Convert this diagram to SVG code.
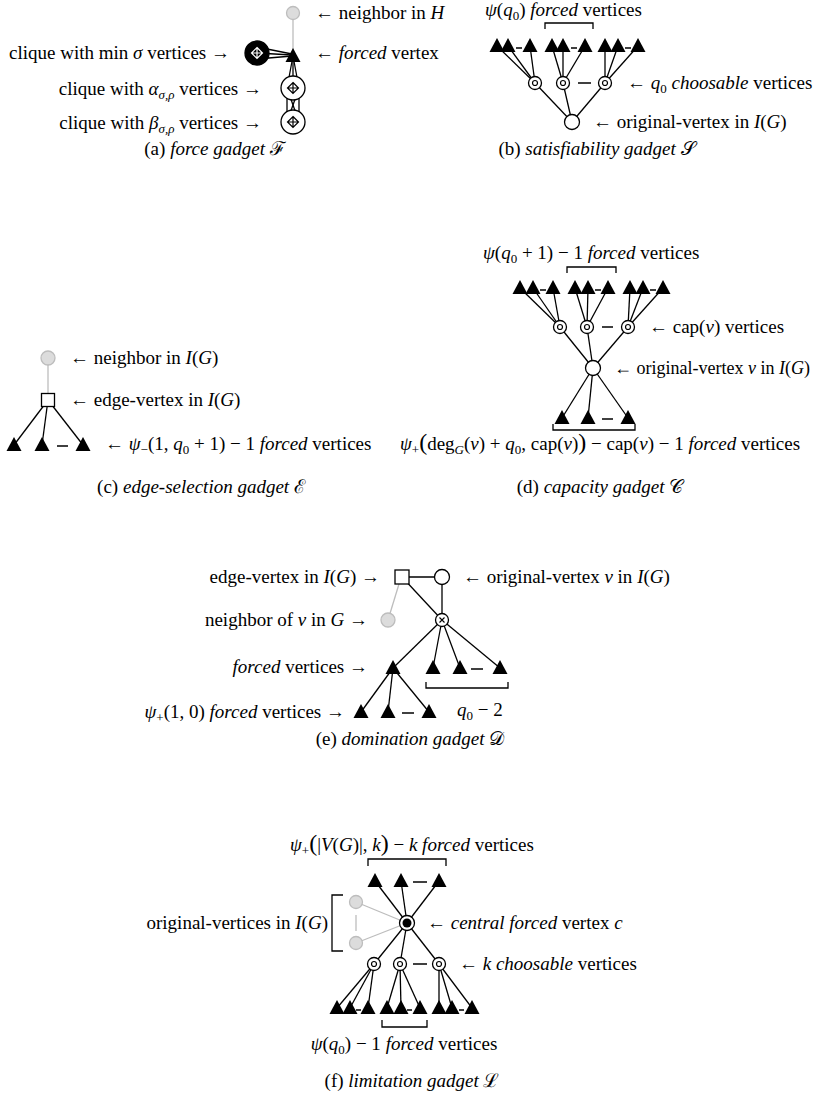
<svg xmlns="http://www.w3.org/2000/svg" xmlns:xlink="http://www.w3.org/1999/xlink" width="820" height="1109" viewBox="0 0 820 1109">
<style>
text{font-family:"Liberation Serif","DejaVu Serif",serif;font-size:19px;fill:#000}
.i{font-style:italic}
.s{font-size:13px}
.bp{font-size:24px}
.e{stroke:#000;stroke-width:1.3;fill:none}
.gr{stroke:#bdbdbd;stroke-width:1.3;fill:none}
.gn{fill:#dcdcdc;stroke:#bdbdbd;stroke-width:1.3}
.w{fill:#fff;stroke:#000;stroke-width:1.3}
.b{fill:#000;stroke:#000;stroke-width:1.3}
.d{stroke:#000;stroke-width:1.5}
.br{stroke:#000;stroke-width:1.3;fill:none}
.cap{font-size:19px}
</style>
<defs>
<path id="tri" d="M0,-8 L7.5,6 L-7.5,6 Z" fill="#000"/>
<g id="ch"><circle r="6.5" class="w"/><circle r="2.5" fill="none" stroke="#000" stroke-width="1.2"/></g>
<path id="dc" d="M0,-5.5 L5.5,0 L0,5.5 L-5.5,0 Z M0,-5.5 V5.5 M-5.5,0 H5.5"/>
</defs>

<!-- connectors -->
<g id="connectors" class="e">
<!-- (a) -->
<line class="gr" x1="293" y1="13" x2="293" y2="56"/>
<line x1="257" y1="47" x2="292" y2="54"/>
<line x1="257" y1="53" x2="292" y2="55"/>
<line x1="257" y1="59" x2="292" y2="56"/>
<line x1="293" y1="56" x2="287" y2="88"/>
<line x1="293" y1="56" x2="293" y2="88"/>
<line x1="293" y1="56" x2="299" y2="88"/>
<line x1="287" y1="88" x2="287" y2="122"/>
<line x1="299" y1="88" x2="299" y2="122"/>
<line x1="287" y1="88" x2="299" y2="122"/>
<line x1="299" y1="88" x2="287" y2="122"/>
<!-- (b) -->
<line x1="535" y1="83" x2="497" y2="46"/><line x1="535" y1="83" x2="508" y2="46"/><line x1="535" y1="83" x2="530" y2="46"/>
<line x1="563" y1="83" x2="552" y2="46"/><line x1="563" y1="83" x2="563" y2="46"/><line x1="563" y1="83" x2="585" y2="46"/>
<line x1="605" y1="83" x2="605" y2="46"/><line x1="605" y1="83" x2="618" y2="46"/><line x1="605" y1="83" x2="638" y2="46"/>
<line x1="572" y1="122" x2="535" y2="83"/><line x1="572" y1="122" x2="563" y2="83"/><line x1="572" y1="122" x2="605" y2="83"/>
<!-- (c) -->
<line class="gr" x1="48" y1="358" x2="48" y2="400"/>
<line x1="48" y1="400" x2="14" y2="445"/><line x1="48" y1="400" x2="42" y2="445"/><line x1="48" y1="400" x2="83" y2="445"/>
<!-- (d) -->
<line x1="560" y1="327" x2="520" y2="288"/><line x1="560" y1="327" x2="533" y2="288"/><line x1="560" y1="327" x2="553" y2="288"/>
<line x1="587" y1="327" x2="575" y2="288"/><line x1="587" y1="327" x2="588" y2="288"/><line x1="587" y1="327" x2="608" y2="288"/>
<line x1="628" y1="327" x2="630" y2="288"/><line x1="628" y1="327" x2="643" y2="288"/><line x1="628" y1="327" x2="663" y2="288"/>
<line x1="593" y1="368" x2="560" y2="327"/><line x1="593" y1="368" x2="587" y2="327"/><line x1="593" y1="368" x2="628" y2="327"/>
<line x1="593" y1="368" x2="562" y2="418"/><line x1="593" y1="368" x2="588" y2="418"/><line x1="593" y1="368" x2="628" y2="418"/>
<!-- (e) -->
<line x1="402" y1="577" x2="442" y2="577"/>
<line class="gr" x1="399" y1="584" x2="388" y2="620"/>
<line x1="402" y1="577" x2="442" y2="620"/>
<line x1="442" y1="577" x2="442" y2="620"/>
<line x1="442" y1="620" x2="393" y2="668"/><line x1="442" y1="620" x2="433" y2="668"/><line x1="442" y1="620" x2="460" y2="668"/><line x1="442" y1="620" x2="500" y2="668"/>
<line x1="393" y1="668" x2="361" y2="712"/><line x1="393" y1="668" x2="388" y2="712"/><line x1="393" y1="668" x2="429" y2="712"/>
<!-- (f) -->
<line x1="407" y1="923" x2="375" y2="881"/><line x1="407" y1="923" x2="401" y2="881"/><line x1="407" y1="923" x2="439" y2="881"/>
<line class="gr" x1="407" y1="923" x2="356" y2="902"/><line class="gr" x1="407" y1="923" x2="356" y2="943"/>
<line class="gr" x1="356" y1="915" x2="356" y2="931"/>
<line x1="407" y1="923" x2="374" y2="964"/><line x1="407" y1="923" x2="400" y2="964"/><line x1="407" y1="923" x2="439" y2="964"/>
<line x1="374" y1="964" x2="337" y2="1008"/><line x1="374" y1="964" x2="350" y2="1008"/><line x1="374" y1="964" x2="368" y2="1008"/>
<line x1="400" y1="964" x2="387" y2="1008"/><line x1="400" y1="964" x2="401" y2="1008"/><line x1="400" y1="964" x2="420" y2="1008"/>
<line x1="439" y1="964" x2="439" y2="1008"/><line x1="439" y1="964" x2="452" y2="1008"/><line x1="439" y1="964" x2="472" y2="1008"/>
</g>

<!-- (a) force gadget -->
<g id="a-neighbor"><circle cx="293" cy="13" r="6.5" class="gn"/></g>
<g id="a-forced"><use xlink:href="#tri" x="293" y="56"/></g>
<g id="a-min"><circle cx="257" cy="53" r="12" class="b"/><use xlink:href="#dc" x="257" y="53" fill="none" stroke="#fff" stroke-width="1.2"/></g>
<g id="a-alpha"><circle cx="293" cy="88" r="12" class="w"/><use xlink:href="#dc" x="293" y="88" fill="none" stroke="#000" stroke-width="1.2"/></g>
<g id="a-beta"><circle cx="293" cy="122" r="12" class="w"/><use xlink:href="#dc" x="293" y="122" fill="none" stroke="#000" stroke-width="1.2"/></g>

<!-- (b) satisfiability gadget -->
<g id="b-forced">
<use xlink:href="#tri" x="497" y="46"/><use xlink:href="#tri" x="508" y="46"/><use xlink:href="#tri" x="530" y="46"/>
<use xlink:href="#tri" x="552" y="46"/><use xlink:href="#tri" x="563" y="46"/><use xlink:href="#tri" x="585" y="46"/>
<use xlink:href="#tri" x="605" y="46"/><use xlink:href="#tri" x="618" y="46"/><use xlink:href="#tri" x="638" y="46"/>
<line class="d" x1="516" y1="48" x2="522" y2="48"/><line class="d" x1="571" y1="48" x2="577" y2="48"/><line class="d" x1="625" y1="48" x2="631" y2="48"/>
<path class="br" d="M545,29 V23 H593 V29"/>
</g>
<g id="b-choosable">
<use xlink:href="#ch" x="535" y="83"/><use xlink:href="#ch" x="563" y="83"/><use xlink:href="#ch" x="605" y="83"/>
<line class="d" x1="578" y1="83" x2="591" y2="83"/>
</g>
<g id="b-original"><circle cx="572" cy="122" r="7.5" class="w"/></g>

<!-- (c) edge-selection gadget -->
<g id="c-neighbor"><circle cx="48" cy="358" r="7" class="gn"/></g>
<g id="c-edge"><rect x="41.5" y="393.5" width="13" height="13" class="w"/></g>
<g id="c-forced">
<use xlink:href="#tri" x="14" y="445"/><use xlink:href="#tri" x="42" y="445"/><use xlink:href="#tri" x="83" y="445"/>
<line class="d" x1="57" y1="446" x2="68" y2="446"/>
</g>

<!-- (d) capacity gadget -->
<g id="d-forced-top">
<use xlink:href="#tri" x="520" y="288"/><use xlink:href="#tri" x="533" y="288"/><use xlink:href="#tri" x="553" y="288"/>
<use xlink:href="#tri" x="575" y="288"/><use xlink:href="#tri" x="588" y="288"/><use xlink:href="#tri" x="608" y="288"/>
<use xlink:href="#tri" x="630" y="288"/><use xlink:href="#tri" x="643" y="288"/><use xlink:href="#tri" x="663" y="288"/>
<line class="d" x1="540" y1="290" x2="546" y2="290"/><line class="d" x1="595" y1="290" x2="601" y2="290"/><line class="d" x1="650" y1="290" x2="656" y2="290"/>
<path class="br" d="M567,273 V267 H616 V273"/>
</g>
<g id="d-cap">
<use xlink:href="#ch" x="560" y="327"/><use xlink:href="#ch" x="587" y="327"/><use xlink:href="#ch" x="628" y="327"/>
<line class="d" x1="602" y1="327" x2="613" y2="327"/>
</g>
<g id="d-original"><circle cx="593" cy="368" r="7.5" class="w"/></g>
<g id="d-forced-bottom">
<use xlink:href="#tri" x="562" y="418"/><use xlink:href="#tri" x="588" y="418"/><use xlink:href="#tri" x="628" y="418"/>
<line class="d" x1="602" y1="419" x2="613" y2="419"/>
<path class="br" d="M553,424 V430 H635 V424"/>
</g>

<!-- (e) domination gadget -->
<g id="e-edge"><rect x="395" y="570" width="14" height="14" class="w"/></g>
<g id="e-original"><circle cx="442" cy="577" r="7.5" class="w"/></g>
<g id="e-neighbor"><circle cx="388" cy="620" r="7" class="gn"/></g>
<g id="e-cross"><circle cx="442" cy="620" r="6.5" class="w"/><path d="M439.5,617.5 L444.5,622.5 M444.5,617.5 L439.5,622.5" stroke="#000" stroke-width="1.1"/></g>
<g id="e-forced"><use xlink:href="#tri" x="393" y="668"/></g>
<g id="e-forced-q">
<use xlink:href="#tri" x="433" y="668"/><use xlink:href="#tri" x="460" y="668"/><use xlink:href="#tri" x="500" y="668"/>
<line class="d" x1="471" y1="669" x2="483" y2="669"/>
<path class="br" d="M426,682 V688 H508 V682"/>
</g>
<g id="e-forced-psi">
<use xlink:href="#tri" x="361" y="712"/><use xlink:href="#tri" x="388" y="712"/><use xlink:href="#tri" x="429" y="712"/>
<line class="d" x1="402" y1="713" x2="414" y2="713"/>
</g>

<!-- (f) limitation gadget -->
<g id="f-forced-top">
<use xlink:href="#tri" x="375" y="881"/><use xlink:href="#tri" x="401" y="881"/><use xlink:href="#tri" x="439" y="881"/>
<line class="d" x1="413" y1="882" x2="427" y2="882"/>
<path class="br" d="M368,866 V859 H446 V866"/>
</g>
<g id="f-original">
<circle cx="356" cy="902" r="6.5" class="gn"/><circle cx="356" cy="943" r="6.5" class="gn"/>
<path class="br" d="M343,895 H332 V951 H343"/>
</g>
<g id="f-central"><circle cx="407" cy="923" r="7.5" class="w"/><circle cx="407" cy="923" r="4.5" fill="#000"/></g>
<g id="f-choosable">
<use xlink:href="#ch" x="374" y="964"/><use xlink:href="#ch" x="400" y="964"/><use xlink:href="#ch" x="439" y="964"/>
<line class="d" x1="413" y1="964" x2="427" y2="964"/>
</g>
<g id="f-forced-bottom">
<use xlink:href="#tri" x="337" y="1008"/><use xlink:href="#tri" x="350" y="1008"/><use xlink:href="#tri" x="368" y="1008"/>
<use xlink:href="#tri" x="387" y="1008"/><use xlink:href="#tri" x="401" y="1008"/><use xlink:href="#tri" x="420" y="1008"/>
<use xlink:href="#tri" x="439" y="1008"/><use xlink:href="#tri" x="452" y="1008"/><use xlink:href="#tri" x="472" y="1008"/>
<line class="d" x1="356" y1="1010" x2="361" y2="1010"/><line class="d" x1="407" y1="1010" x2="412" y2="1010"/><line class="d" x1="459" y1="1010" x2="464" y2="1010"/>
<path class="br" d="M382,1020 V1027 H427 V1020"/>
</g>

<!-- labels -->
<g id="labels">
<text x="315" y="19">← neighbor in <tspan class="i">H</tspan></text>
<text x="315" y="59">← <tspan class="i">forced</tspan> vertex</text>
<text x="230" y="59" text-anchor="end">clique with min <tspan class="i">σ</tspan> vertices →</text>
<text x="262" y="95" text-anchor="end">clique with <tspan class="i">α</tspan><tspan class="s i" dy="4">σ,ρ</tspan><tspan dy="-4"> vertices →</tspan></text>
<text x="262" y="129" text-anchor="end">clique with <tspan class="i">β</tspan><tspan class="s i" dy="4">σ,ρ</tspan><tspan dy="-4"> vertices →</tspan></text>

<text x="485" y="16"><tspan class="i">ψ</tspan>(<tspan class="i">q</tspan><tspan class="s" dy="4">0</tspan><tspan dy="-4">) </tspan><tspan class="i">forced</tspan> vertices</text>
<text x="627" y="89">← <tspan class="i">q</tspan><tspan class="s" dy="4">0</tspan><tspan dy="-4"> </tspan><tspan class="i">choosable</tspan> vertices</text>
<text x="593" y="128">← original-vertex in <tspan class="i">I</tspan>(<tspan class="i">G</tspan>)</text>

<text x="70" y="364">← neighbor in <tspan class="i">I</tspan>(<tspan class="i">G</tspan>)</text>
<text x="70" y="406">← edge-vertex in <tspan class="i">I</tspan>(<tspan class="i">G</tspan>)</text>
<text x="105" y="450">← <tspan class="i">ψ</tspan><tspan class="s" dy="4">−</tspan><tspan dy="-4">(1, </tspan><tspan class="i">q</tspan><tspan class="s" dy="4">0</tspan><tspan dy="-4"> + 1) − 1 </tspan><tspan class="i">forced</tspan> vertices</text>

<text x="483" y="259"><tspan class="i">ψ</tspan>(<tspan class="i">q</tspan><tspan class="s" dy="4">0</tspan><tspan dy="-4"> + 1) − 1 </tspan><tspan class="i">forced</tspan> vertices</text>
<text x="649" y="333">← cap(<tspan class="i">v</tspan>) vertices</text>
<text x="614" y="374" style="font-size:18px">← original-vertex <tspan class="i">v</tspan> in <tspan class="i">I</tspan>(<tspan class="i">G</tspan>)</text>
<text x="400" y="450"><tspan class="i">ψ</tspan><tspan class="s" dy="4">+</tspan><tspan class="bp" dy="-4">(</tspan>deg<tspan class="s i" dy="4">G</tspan><tspan dy="-4">(</tspan><tspan class="i">v</tspan>) + <tspan class="i">q</tspan><tspan class="s" dy="4">0</tspan><tspan dy="-4">, cap(</tspan><tspan class="i">v</tspan>)<tspan class="bp">)</tspan> − cap(<tspan class="i">v</tspan>) − 1 <tspan class="i">forced</tspan> vertices</text>

<text x="380" y="583" text-anchor="end">edge-vertex in <tspan class="i">I</tspan>(<tspan class="i">G</tspan>) →</text>
<text x="463" y="583">← original-vertex <tspan class="i">v</tspan> in <tspan class="i">I</tspan>(<tspan class="i">G</tspan>)</text>
<text x="368" y="626" text-anchor="end">neighbor of <tspan class="i">v</tspan> in <tspan class="i">G</tspan> →</text>
<text x="368" y="673" text-anchor="end"><tspan class="i">forced</tspan> vertices →</text>
<text x="457" y="716"><tspan class="i">q</tspan><tspan class="s" dy="4">0</tspan><tspan dy="-4"> − 2</tspan></text>
<text x="345" y="718" text-anchor="end"><tspan class="i">ψ</tspan><tspan class="s" dy="4">+</tspan><tspan dy="-4">(1, 0) </tspan><tspan class="i">forced</tspan> vertices →</text>

<text x="290" y="851"><tspan class="i">ψ</tspan><tspan class="s" dy="4">+</tspan><tspan class="bp" dy="-4">(</tspan>|<tspan class="i">V</tspan>(<tspan class="i">G</tspan>)|, <tspan class="i">k</tspan><tspan class="bp">)</tspan> − <tspan class="i">k forced</tspan> vertices</text>
<text x="328" y="929" text-anchor="end">original-vertices in <tspan class="i">I</tspan>(<tspan class="i">G</tspan>)</text>
<text x="427" y="929">← <tspan class="i">central forced</tspan> vertex <tspan class="i">c</tspan></text>
<text x="459" y="970">← <tspan class="i">k choosable</tspan> vertices</text>
<text x="404" y="1050" text-anchor="middle"><tspan class="i">ψ</tspan>(<tspan class="i">q</tspan><tspan class="s" dy="4">0</tspan><tspan dy="-4">) − 1 </tspan><tspan class="i">forced</tspan> vertices</text>

<text class="cap" x="215" y="155" text-anchor="middle">(a) <tspan class="i">force gadget</tspan> ℱ</text>
<text class="cap" x="597" y="155" text-anchor="middle">(b) <tspan class="i">satisfiability gadget</tspan> 𝒮</text>
<text class="cap" x="201" y="493" text-anchor="middle">(c) <tspan class="i">edge-selection gadget</tspan> ℰ</text>
<text class="cap" x="600" y="493" text-anchor="middle">(d) <tspan class="i">capacity gadget</tspan> 𝒞</text>
<text class="cap" x="410" y="745" text-anchor="middle">(e) <tspan class="i">domination gadget</tspan> 𝒟</text>
<text class="cap" x="412" y="1087" text-anchor="middle">(f) <tspan class="i">limitation gadget</tspan> ℒ</text>
</g>
</svg>
